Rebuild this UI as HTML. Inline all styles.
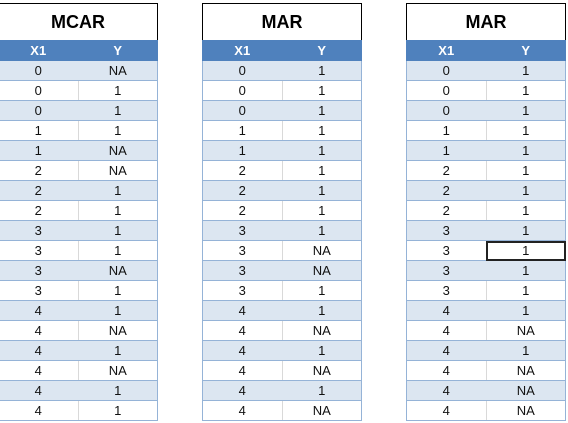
<!DOCTYPE html>
<html><head><meta charset="utf-8"><style>
body{margin:0;width:568px;height:423px;background:#fff;position:relative;overflow:hidden;font-family:"Liberation Sans",sans-serif;}
.t{position:absolute;top:3px;width:160px;}
.title{border:1px solid #000;border-bottom:none;box-sizing:border-box;height:37px;text-align:center;font-weight:bold;font-size:18px;line-height:37px;color:#000;}
table{border-collapse:collapse;width:160px;table-layout:fixed;font-size:13px;}
td,th{height:20px;padding:0;text-align:center;box-sizing:border-box;}
th{background:#4f81bd;color:#fff;font-weight:bold;border:1px solid #4f81bd;}
td{border-top:1px solid #95b3d7;border-bottom:1px solid #95b3d7;color:#111;}
td:first-child{border-left:1px solid #95b3d7;border-right:1px solid #d9d9d9;}
td:last-child{border-right:1px solid #95b3d7;}
tr.b td:first-child{border-right-color:#dce6f1;}
tr.b td{background:#dce6f1;}
td.sel{outline:2px solid #222;outline-offset:-2px;}
</style></head><body>
<div id="root"></div>
<script>
const titles=["MCAR","MAR","MAR"];
const lefts=[-2,202,406];
const x1=[0,0,0,1,1,2,2,2,3,3,3,3,4,4,4,4,4,4];
const ys=[
["NA",1,1,1,"NA","NA",1,1,1,1,"NA",1,1,"NA",1,"NA",1,1],
[1,1,1,1,1,1,1,1,1,"NA","NA",1,1,"NA",1,"NA",1,"NA"],
[1,1,1,1,1,1,1,1,1,1,1,1,1,"NA",1,"NA","NA","NA"]];
const root=document.getElementById('root');
titles.forEach((t,i)=>{
 const d=document.createElement('div');d.className='t';d.style.left=lefts[i]+'px';
 
 
 let h='<div class="title">'+t+'</div><table><tr><th>X1</th><th>Y</th></tr>';
 x1.forEach((v,r)=>{
  const sel=(i===2&&r===9)?' class="sel"':'';
  h+='<tr class="'+(r%2===0?'b':'')+'"><td>'+v+'</td><td'+sel+'>'+ys[i][r]+'</td></tr>';
 });
 h+='</table>';d.innerHTML=h;root.appendChild(d);
});
</script>
</body></html>
